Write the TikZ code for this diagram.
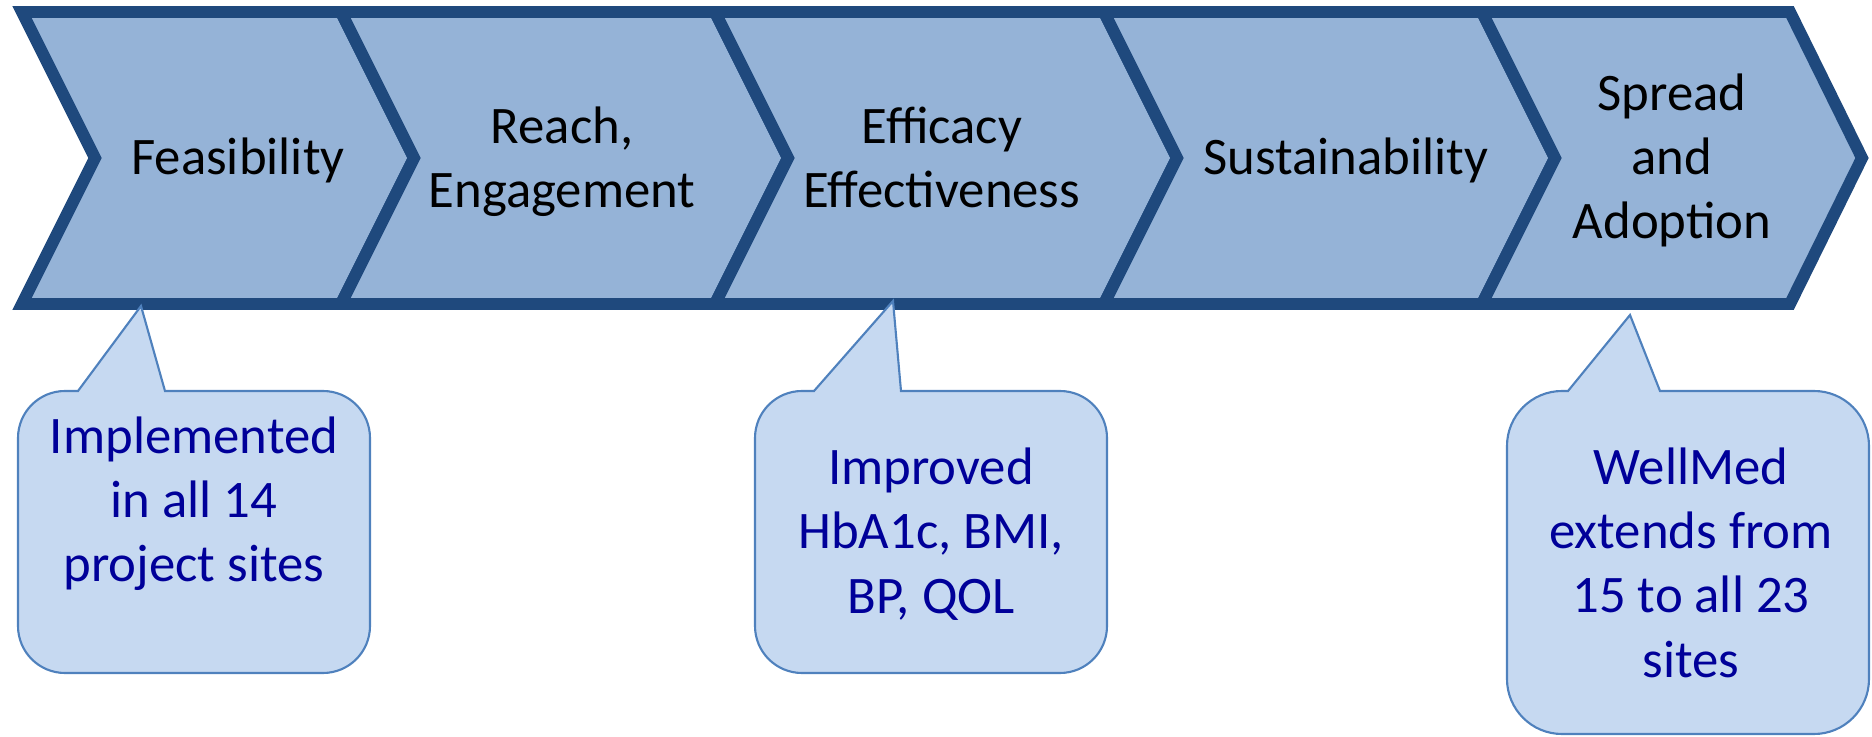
\documentclass[tikz,border=0pt]{standalone}
\usepackage{fontspec}
\setmainfont{Carlito}
\usepackage{tikz}
\definecolor{chevfill}{HTML}{95B3D7}
\definecolor{chevline}{HTML}{1F497D}
\definecolor{callfill}{HTML}{C6D9F1}
\definecolor{callline}{HTML}{4F81BD}
\definecolor{calltext}{HTML}{000099}
\tikzset{chev/.style={fill=chevfill,draw=chevline,line width=3.4pt},
  callout/.style={fill=callfill,draw=callline,line width=0.6pt},
  stage/.style={align=center,anchor=base,inner sep=0pt},
  note/.style={stage,text=calltext}}

\begin{document}
\begin{tikzpicture}[x=0.01cm,y=0.01cm,line join=miter,font=\fontsize{15}{18.2}\selectfont]
\useasboundingbox (0,0) rectangle (1872,736);
% --- process chevrons, left to right
\draw[chev] (22,724) -- (341,724) -- (414,578) -- (341,432) -- (22,432) -- (95,578) -- cycle;
\draw[chev] (341,724) -- (715,724) -- (788,578) -- (715,432) -- (341,432) -- (414,578) -- cycle;
\draw[chev] (715,724) -- (1104,724) -- (1177,578) -- (1104,432) -- (715,432) -- (788,578) -- cycle;
\draw[chev] (1104,724) -- (1482,724) -- (1555,578) -- (1482,432) -- (1104,432) -- (1177,578) -- cycle;
\draw[chev] (1482,724) -- (1790,724) -- (1862,578) -- (1790,432) -- (1482,432) -- (1555,578) -- cycle;
% labels sit on the baseline of their last line
\node[stage] (feas) at (238,561) {Feasibility};
\node[stage] (reach) at (562,528) {Reach,\\Engagement};
\node[stage] (effic) at (942,528) {Efficacy\\Effectiveness};
\node[stage] (sustain) at (1346,561) {Sustainability};
\node[stage] (spread) at (1672,497) {Spread\\and\\Adoption};
% --- callouts below the stages
\draw[callout] (78,345) -- (141,430) -- (165,345) -- (323,345) arc[start angle=90,end angle=0,radius=47]
  -- (370,110) arc[start angle=0,end angle=-90,radius=47] -- (65,63) arc[start angle=270,end angle=180,radius=47]
  -- (18,298) arc[start angle=180,end angle=90,radius=47] -- cycle;
\node[note] (impl) at (194,154) {Implemented\\in all 14\\project sites};
\draw[callout] (814,345) -- (893,435) -- (901,345) -- (1060,345) arc[start angle=90,end angle=0,radius=47]
  -- (1107,110) arc[start angle=0,end angle=-90,radius=47] -- (802,63) arc[start angle=270,end angle=180,radius=47]
  -- (755,298) arc[start angle=180,end angle=90,radius=47] -- cycle;
\node[note] (improved) at (931,123) {Improved\\HbA1c, BMI,\\BP, QOL};
\draw[callout] (1568,345) -- (1630,421) -- (1660,345) -- (1814,345) arc[start angle=90,end angle=0,radius=55]
  -- (1869,57) arc[start angle=0,end angle=-90,radius=55] -- (1562,2) arc[start angle=270,end angle=180,radius=55]
  -- (1507,290) arc[start angle=180,end angle=90,radius=55] -- cycle;
\node[note] (wellmed) at (1691,59) {WellMed\\extends from\\15 to all 23\\sites};
\end{tikzpicture}
\end{document}
